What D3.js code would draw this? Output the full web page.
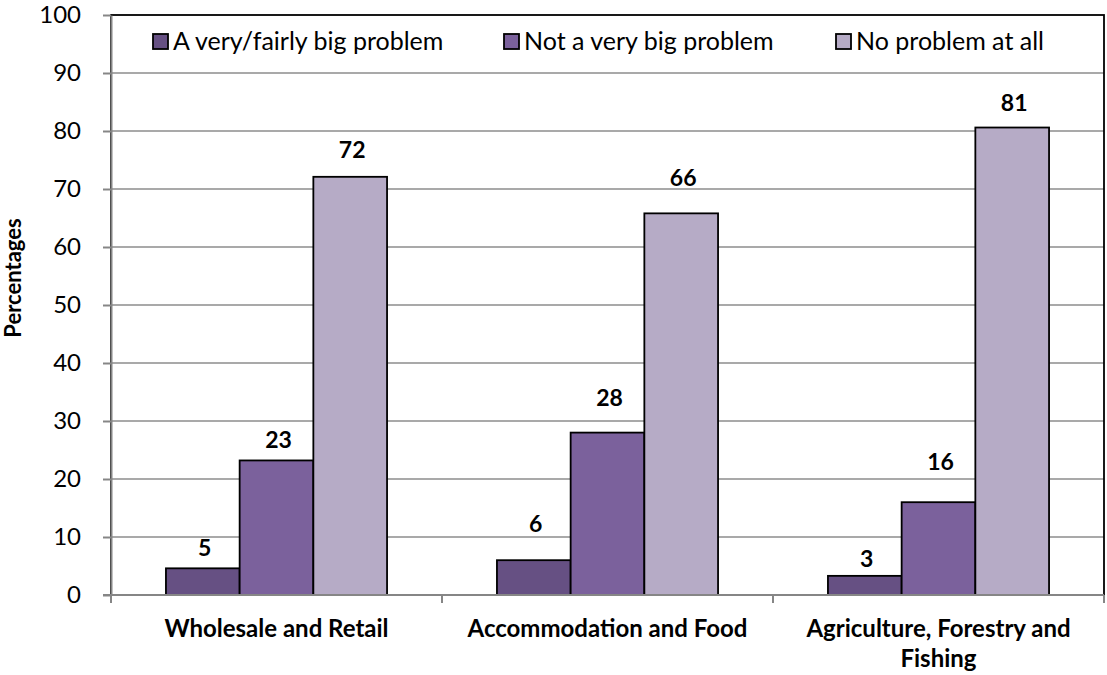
<!DOCTYPE html>
<html><head><meta charset="utf-8">
<script src="https://cdn.jsdelivr.net/npm/d3@7"></script>
<style>body{margin:0;background:#fff}svg{display:block}</style>
</head><body>
<svg id="c" width="1107" height="675"></svg>
<script>
const categories = [["Wholesale and Retail"], ["Accommodation and Food"], ["Agriculture, Forestry and", "Fishing"]];
const seriesNames = ["A very/fairly big problem", "Not a very big problem", "No problem at all"];
const bigProblem = [4.6, 6.0, 3.3];
const notVeryBig = [23.2, 28.0, 16.0];
const noProblem = [72.1, 65.8, 80.6];
const valueLabels = [["5", "23", "72"], ["6", "28", "66"], ["3", "16", "81"]];
const yTicks = [0, 10, 20, 30, 40, 50, 60, 70, 80, 90, 100];
// manual label nudges (px above bar top), as in the original
const labelLift = [[12, 12, 19], [28, 27, 27], [9, 32, 17]];

const colors = ["#665083", "#7b619c", "#b6abc6"];
const series = [bigProblem, notVeryBig, noProblem];

const svg = d3.select("#c");
const L = 111, R = 1104, T = 15, B = 595;
const FONT = "Lato, 'Open Sans', sans-serif";

const y = d3.scaleLinear().domain([0, 100]).range([B, T]);
const x0 = d3.scaleBand().domain(d3.range(categories.length)).range([L, R]).paddingInner(0.332).paddingOuter(0.166);
const x1 = d3.scaleBand().domain(d3.range(series.length)).range([0, x0.bandwidth()]);

// gridlines
svg.append("g").selectAll("line").data(yTicks.filter(d => d > 0 && d < 100)).join("line")
  .attr("x1", L).attr("x2", R).attr("y1", d => y(d)).attr("y2", d => y(d))
  .attr("stroke", "#8c8c8c").attr("stroke-width", 1.5);

// plot border
svg.append("rect").attr("x", L).attr("y", T).attr("width", R - L).attr("height", B - T)
  .attr("fill", "none").attr("stroke", "#000").attr("stroke-width", 1.8);

// bars
const rows = categories.map((c, i) => series.map((s, j) => ({ i, j, v: s[i], label: valueLabels[i][j], lift: labelLift[i][j] })));
const gCat = svg.append("g").selectAll("g").data(rows).join("g")
  .attr("transform", (d, i) => `translate(${x0(i)},0)`);
gCat.selectAll("rect").data(d => d).join("rect")
  .attr("x", d => x1(d.j)).attr("width", x1.bandwidth())
  .attr("y", d => y(d.v)).attr("height", d => y(0) - y(d.v))
  .attr("fill", d => colors[d.j]).attr("stroke", "#000").attr("stroke-width", 1.8);
gCat.selectAll("text").data(d => d).join("text")
  .attr("x", d => x1(d.j) + x1.bandwidth() / 2 + 2)
  .attr("y", d => y(d.v) - d.lift)
  .attr("text-anchor", "middle").attr("font-family", FONT).attr("font-weight", "bold")
  .attr("font-size", 23).attr("fill", "#000").text(d => d.label);

// y axis
const yAxis = svg.append("g").attr("transform", `translate(${L},0)`)
  .call(d3.axisLeft(y).tickValues(yTicks).tickSize(8).tickPadding(22).tickSizeOuter(0));
yAxis.select(".domain").attr("stroke", "#868686").attr("stroke-width", 2);
yAxis.selectAll(".tick line").attr("stroke", "#868686").attr("stroke-width", 2);
yAxis.selectAll(".tick text").attr("font-family", FONT).attr("font-size", 24).attr("fill", "#000");

// x axis
const xb = [0, 1, 2, 3].map(k => L + k * (R - L) / 3);
svg.append("line").attr("x1", L - 8).attr("x2", R).attr("y1", B).attr("y2", B)
  .attr("stroke", "#868686").attr("stroke-width", 2);
svg.append("g").selectAll("line").data(xb).join("line")
  .attr("x1", d => d).attr("x2", d => d).attr("y1", B).attr("y2", B + 8)
  .attr("stroke", "#868686").attr("stroke-width", 2);
const catText = svg.append("g").selectAll("text").data(categories).join("text")
  .attr("x", (d, i) => x0(i) + x0.bandwidth() / 2)
  .attr("y", 637).attr("text-anchor", "middle")
  .attr("font-family", FONT).attr("font-weight", "bold").attr("font-size", 24).attr("fill", "#000");
catText.selectAll("tspan").data(d => d).join("tspan")
  .attr("x", function () { return this.parentNode.getAttribute("x"); })
  .attr("dy", (d, k) => k === 0 ? 0 : 30).text(d => d);

// y title
svg.append("text").attr("transform", "translate(21,278) rotate(-90)")
  .attr("text-anchor", "middle").attr("font-family", FONT).attr("font-weight", "bold")
  .attr("font-size", 22).attr("fill", "#000").text("Percentages");

// legend
const legX = [153, 504, 836];
const leg = svg.append("g").selectAll("g").data(seriesNames).join("g")
  .attr("transform", (d, j) => `translate(${legX[j]},34)`);
leg.append("rect").attr("width", 15).attr("height", 15)
  .attr("fill", (d, j) => colors[j]).attr("stroke", "#000").attr("stroke-width", 1.8);
leg.append("text").attr("x", 20).attr("y", 16)
  .attr("font-family", FONT).attr("font-size", 25).attr("fill", "#000").text(d => d);
</script>
</body></html>
